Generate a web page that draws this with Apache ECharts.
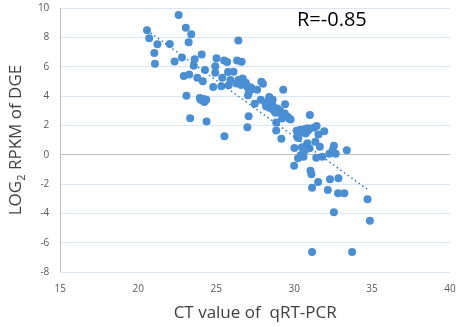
<!DOCTYPE html>
<html>
<head>
<meta charset="utf-8">
<script src="https://cdn.jsdelivr.net/npm/echarts@6/dist/echarts.min.js"></script>
<style>
html, body { margin: 0; padding: 0; background: #fff; }
#main { width: 459px; height: 327px; }
</style>
</head>
<body>
<div id="main"></div>
<script>
// CT value (x) and log2 RPKM (y)
var ctValues = [20.56, 20.70, 21.03, 21.07, 21.23, 22.02, 22.33, 22.59, 22.80, 23.05,
	23.40, 23.23, 22.92, 23.27, 23.09, 23.33, 23.62, 23.56, 24.07, 23.79,
	24.14, 24.28, 23.95, 24.12, 24.36, 24.24, 24.38, 24.81, 25.02, 24.94,
	24.94, 25.39, 25.33, 25.51, 25.70, 25.76, 25.80, 26.11, 25.91, 25.53,
	26.42, 26.34, 26.63, 26.42, 26.63, 26.84, 27.00, 27.14, 27.04, 27.08,
	27.00, 27.47, 27.62, 27.90, 28.00, 27.86, 28.17, 28.40, 28.62, 28.48,
	28.68, 28.93, 28.85, 28.85, 29.18, 29.30, 29.42, 29.40, 29.60, 29.22,
	29.77, 30.02, 30.00, 30.16, 30.33, 30.27, 30.25, 30.43, 30.60, 30.64,
	30.74, 30.88, 31.01, 30.84, 30.99, 31.05, 31.11, 31.15, 31.15, 31.26,
	31.44, 31.36, 31.42, 31.56, 31.65, 31.54, 31.81, 31.93, 32.16, 32.30,
	32.26, 32.47, 32.55, 32.55, 32.67, 32.82, 32.84, 33.22, 33.38, 33.72,
	34.71, 34.86,
	26.50, 26.70, 26.90, 26.30, 26.60, 27.20, 27.30, 27.10, 28.30, 28.50,
	28.60, 28.70, 28.40, 28.20, 29.00, 29.10, 28.80, 29.50, 29.70, 30.40,
	30.50, 30.90, 30.70, 30.20, 30.50, 30.70, 30.80, 24.20, 24.00];
var rpkmValues = [8.48, 7.94, 6.94, 6.20, 7.53, 7.55, 6.36, 9.52, 6.63, 8.66,
	8.21, 7.67, 5.36, 5.47, 4.02, 2.48, 6.51, 6.06, 6.83, 5.25,
	5.00, 5.77, 3.87, 3.71, 3.75, 3.59, 2.26, 4.61, 6.58, 6.02,
	5.59, 5.25, 4.66, 6.42, 6.31, 5.63, 4.73, 5.65, 5.09, 1.26,
	7.78, 6.42, 6.33, 5.09, 4.95, 4.84, 4.61, 4.39, 4.05, 2.62,
	1.87, 3.48, 4.43, 4.97, 4.84, 3.75, 3.48, 3.93, 3.75, 3.30,
	3.03, 3.14, 2.19, 1.65, 1.08, 4.43, 3.43, 2.80, 2.57, 2.46,
	2.39, 0.45, -0.75, 1.63, 1.45, 1.13, -0.25, -0.03, -0.14, 1.63,
	1.45, 1.80, 2.71, 0.77, 0.43, -1.09, -1.34, -2.25, -6.64, 1.84,
	1.96, 0.88, -0.21, 1.37, 0.54, -1.86, -0.14, 1.60, -2.41, -1.68,
	0.07, 0.30, 0.61, -3.92, 0.07, -2.63, -1.61, -2.63, 0.30, -6.64,
	-3.04, -4.51,
	5.00, 5.20, 4.90, 4.85, 4.75, 4.60, 4.50, 4.25, 3.60, 3.80,
	3.40, 3.20, 3.20, 3.30, 2.90, 3.00, 2.85, 2.60, 2.45, 1.70,
	1.55, 1.65, 1.75, 1.20, 0.50, 0.30, 0.55, 3.80, 3.75];

// dotted linear trend line, drawn over the data range
var trendX = [20.56, 34.71];
var trendSlope = -0.767;
var trendIntercept = 24.25;
var rText = 'R=-0.85';

var points = ctValues.map(function (x, i) { return [x, rpkmValues[i]]; });
var trendPoints = trendX.map(function (x) { return [x, trendIntercept + trendSlope * x]; });

var myChart = echarts.init(document.getElementById('main'));
var option = {
	animation: false,
	grid: {
		left: 45,
		right: 9,
		top: 8,
		bottom: 55
	},
	xAxis: {
		type: 'value',
		min: 15,
		max: 40,
		interval: 5,
		name: 'CT value of  qRT-PCR',
		nameLocation: 'middle',
		nameGap: 33,
		nameTextStyle: { fontSize: 17, color: '#404040', fontFamily: 'Open Sans' },
		axisLine: { lineStyle: { color: '#bfbfbf', width: 1 } },
		axisTick: { show: false },
		axisLabel: { color: '#595959', fontSize: 10, margin: 12, fontFamily: 'Open Sans' },
		splitLine: { show: false }
	},
	yAxis: {
		type: 'value',
		min: -8,
		max: 10,
		interval: 2,
		name: '{a|LOG}{s|2}{a| RPKM of DGE}',
		nameLocation: 'middle',
		nameGap: 26,
		nameTextStyle: {
			rich: {
				a: { fontSize: 17, color: '#404040', fontFamily: 'Open Sans' },
				s: { fontSize: 11, color: '#404040', fontFamily: 'Open Sans', padding: [10, 0, 0, 0] }
			}
		},
		axisLine: { show: true, lineStyle: { color: '#bfbfbf', width: 1 } },
		axisTick: { show: false },
		axisLabel: { color: '#595959', fontSize: 10, margin: 11, fontFamily: 'Open Sans' },
		splitLine: { lineStyle: { color: '#dbe6f4', width: 1 } }
	},
	graphic: [{
		type: 'text',
		left: 297,
		top: 10,
		style: { text: rText, fontSize: 20, fill: '#000', fontFamily: 'Open Sans' }
	}],
	series: [{
		type: 'scatter',
		data: points,
		symbolSize: 8,
		itemStyle: { color: '#4a8fd4', opacity: 1 }
	}, {
		type: 'line',
		data: trendPoints,
		symbol: 'none',
		lineStyle: { color: '#2f78c4', width: 1.5, type: [1.5, 3] },
		z: 3
	}]
};
myChart.setOption(option);
</script>
</body>
</html>
